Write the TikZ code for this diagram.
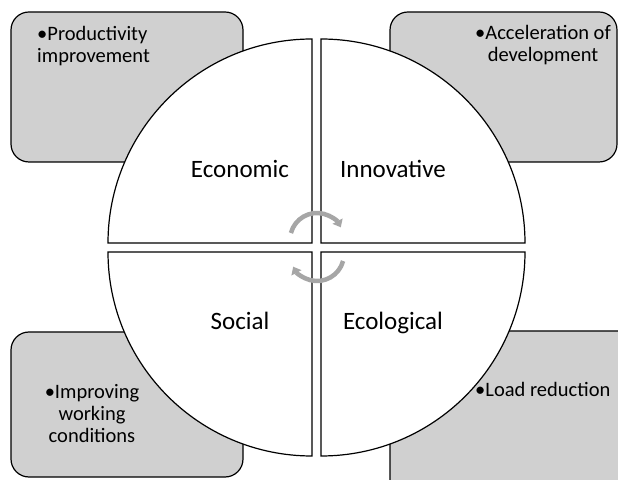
\documentclass[tikz,border=0pt]{standalone}
\usepackage{fontspec}
\setmainfont{Carlito}
\usetikzlibrary{arrows.meta}
\definecolor{boxgray}{RGB}{208,208,208}
\definecolor{arrgray}{RGB}{166,166,166}
\begin{document}
\begin{tikzpicture}[x=1pt,y=1pt,
  infobox/.style={draw=black,line width=1.2pt,fill=boxgray,rounded corners=18pt},
  quad/.style={draw=black,line width=1.2pt,fill=white},
  qlabel/.style={font=\fontsize{25}{30}\selectfont,inner sep=0pt,anchor=base},
  btext/.style={font=\fontsize{20.5}{22}\selectfont,inner sep=0pt},
  cyc/.style={draw=arrgray,line width=4.5pt,-{Triangle[width=11pt,length=7pt]}}
]
\useasboundingbox[fill=white] (0,0) rectangle (618,479);
% background boxes
\draw[infobox] (11,317) rectangle (243,467);
\draw[infobox] (390,317) rectangle (617,467);
\draw[infobox] (11,2) rectangle (243,147);
\draw[infobox] (390,-30) rectangle (650,148);
% quadrants
\draw[quad] (312,236) -- (108,236) arc[start angle=180,end angle=90,radius=204] -- cycle;
\draw[quad] (321,236) -- (321,440) arc[start angle=90,end angle=0,radius=204] -- cycle;
\draw[quad] (312,227) -- (312,23) arc[start angle=270,end angle=180,radius=204] -- cycle;
\draw[quad] (321,227) -- (525,227) arc[start angle=0,end angle=-90,radius=204] -- cycle;
% labels
\node[qlabel] (eco) at (240,301) {Economic};
\node[qlabel] (inn) at (393,301) {Innovative};
\node[qlabel] (soc) at (240,149) {Social};
\node[qlabel] (ecl) at (393,149) {Ecological};
% box texts (base anchor = last line)
\node[btext,align=left,anchor=base west] (t1) at (37,416) {•Productivity\\improvement};
\node[btext,align=center,anchor=base] (t2) at (543,417) {•Acceleration of\\development};
\node[btext,align=center,anchor=base] (t3) at (92,37) {•Improving\\working\\conditions};
\node[btext,anchor=base west] (t4) at (475,82) {•Load reduction};
% cycle arrows
\coordinate (c1) at (317,239);
\coordinate (c2) at (317,225);
\draw[cyc] ([shift={(165:27)}]c1) arc[start angle=165,end angle=28,radius=27];
\draw[cyc] ([shift={(-15:27)}]c2) arc[start angle=-15,end angle=-152,radius=27];
\end{tikzpicture}
\end{document}
